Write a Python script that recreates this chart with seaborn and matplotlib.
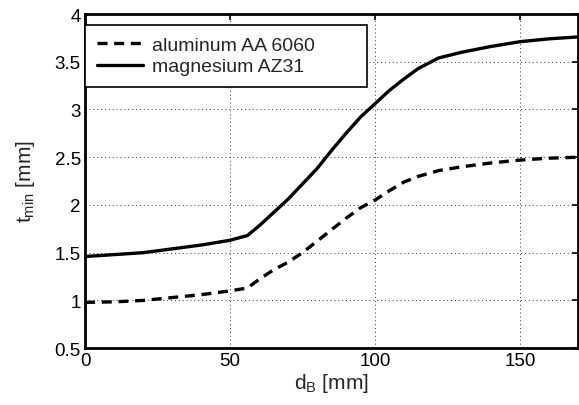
import matplotlib
matplotlib.use("Agg")
import matplotlib.pyplot as plt
import seaborn as sns
import pandas as pd

d_B = [0, 10, 20, 30, 40, 50, 56, 60, 65, 70, 75, 80, 85, 90, 95, 100, 105,
       110, 115, 122, 130, 140, 150, 160, 170]
t_al = [0.98, 0.985, 1.0, 1.03, 1.06, 1.10, 1.13, 1.22, 1.32, 1.40, 1.50, 1.62,
        1.74, 1.86, 1.97, 2.05, 2.15, 2.24, 2.30, 2.36, 2.40, 2.44, 2.47, 2.49, 2.50]
t_mg = [1.46, 1.48, 1.50, 1.54, 1.58, 1.63, 1.68, 1.78, 1.92, 2.06, 2.22, 2.38,
        2.57, 2.75, 2.92, 3.06, 3.20, 3.32, 3.43, 3.54, 3.60, 3.66, 3.71, 3.74, 3.76]
labels = ["aluminum AA 6060", "magnesium AZ31"]
xticks = [0, 50, 100, 150]
yticks = [0.5, 1, 1.5, 2, 2.5, 3, 3.5, 4]
ytick_labels = ["0.5", "1", "1.5", "2", "2.5", "3", "3.5", "4"]

sns.set_style("white")
plt.rcParams["font.family"] = ["Liberation Sans", "DejaVu Sans"]
plt.rcParams["mathtext.fontset"] = "custom"
plt.rcParams["mathtext.rm"] = "Liberation Sans"
plt.rcParams["mathtext.it"] = "Liberation Sans"

df_al = pd.DataFrame({"d": d_B, "t": t_al})
df_mg = pd.DataFrame({"d": d_B, "t": t_mg})

fig = plt.figure(figsize=(5.79, 4.06), dpi=100)
ax = fig.add_axes([0.147, 0.140, 0.851, 0.823])

sns.lineplot(data=df_al, x="d", y="t", ax=ax, color="black", lw=2.4,
             linestyle=(0, (3, 2)), label=labels[0])
sns.lineplot(data=df_mg, x="d", y="t", ax=ax, color="black", lw=2.4,
             linestyle="-", label=labels[1])

ax.set_xlim(0, 170)
ax.set_ylim(0.5, 4)
ax.set_xticks(xticks)
ax.set_yticks(yticks)
ax.set_yticklabels(ytick_labels)
ax.grid(True, linestyle=(0, (1, 3)), color="black", lw=0.7, alpha=0.8)
ax.tick_params(direction="in", top=True, right=True, length=4, width=1.2,
               labelsize=13.5, pad=3, colors="black")
for s in ax.spines.values():
    s.set_linewidth(2)
    s.set_color("black")

ax.set_xlabel(r"d$_\mathrm{B}$ [mm]", fontsize=15)
ax.set_ylabel(r"t$_\mathrm{min}$ [mm]", fontsize=15)
ax.xaxis.set_label_coords(0.5, -0.068)
ax.yaxis.set_label_coords(-0.098, 0.5)

leg = ax.legend(loc="upper left", bbox_to_anchor=(0, 0, 0.572, 0.968),
                mode="expand", fontsize=14, frameon=True, fancybox=False,
                edgecolor="black", borderaxespad=0, handlelength=2.4,
                borderpad=0.6, labelspacing=0.2, handletextpad=0.45)
leg.get_frame().set_linewidth(1.2)
leg.get_frame().set_alpha(1)

fig.savefig("out.png", dpi=100)
